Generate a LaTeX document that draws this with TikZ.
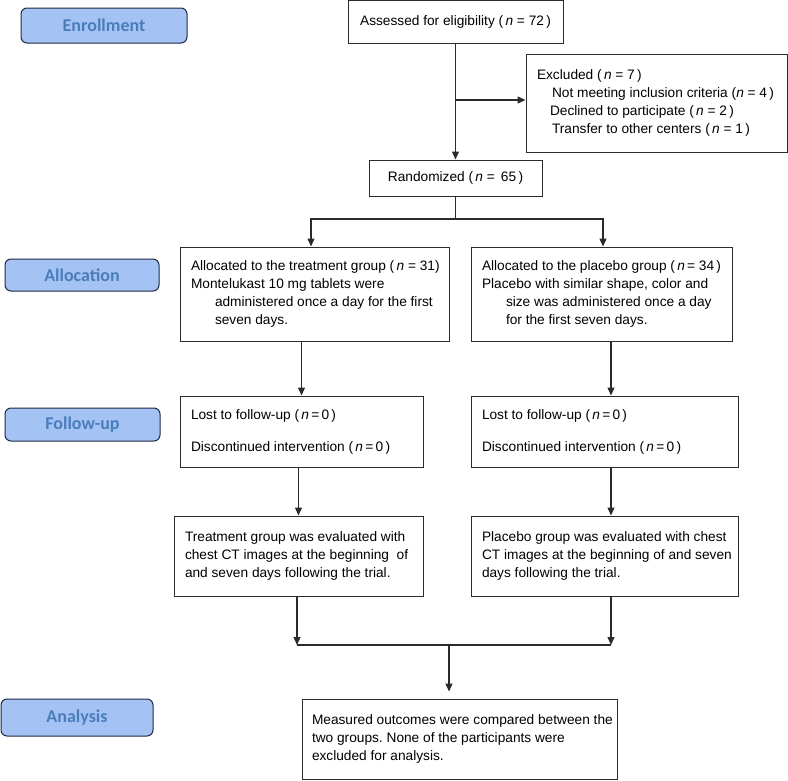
\documentclass[tikz,border=0pt]{standalone}
\usepackage{fontspec}
\setmainfont{Liberation Sans}
\newfontfamily\labelfont{Carlito}
\usetikzlibrary{arrows.meta,positioning}
\definecolor{lblfill}{HTML}{A4C2F4}
\definecolor{lbltext}{HTML}{4A7EBB}
\definecolor{lbldraw}{HTML}{1F2A44}
\definecolor{boxdraw}{HTML}{2B2B2B}
\frenchspacing
\begin{document}
\begin{tikzpicture}[x=1pt,y=-1pt,
  stage/.style={draw=lbldraw,line width=1pt,fill=lblfill,rounded corners=6pt,
    text=lbltext,font=\labelfont\bfseries\fontsize{18}{20}\selectfont,inner sep=0pt},
  tbox/.style={draw=boxdraw,line width=1pt,fill=white,inner xsep=11pt,inner ysep=0pt,
    font=\fontsize{13.7}{18}\selectfont,align=flush left},
  cbox/.style={draw=boxdraw,line width=1pt,fill=white,inner sep=0pt,
    font=\fontsize{13.7}{18}\selectfont,align=center},
  conn/.style={draw=boxdraw,line width=1.3pt},
  arr/.style={conn,-{Triangle[length=8pt,width=7pt]}}]
\useasboundingbox (0,0) rectangle (788,780);
% stage labels
\node[stage,minimum width=166pt,minimum height=35pt] (lenr) at (104,25.5) {Enrollment};
\node[stage,minimum width=154pt,minimum height=32pt] (lall) at (82,275) {Allocation};
\node[stage,minimum width=155pt,minimum height=33pt] (lfu) at (82.5,424.5) {Follow-up};
\node[stage,minimum width=152pt,minimum height=37pt] (lana) at (77,717.5) {Analysis};
% boxes
\node[cbox,minimum width=215pt,minimum height=42.5pt] (assess) at (455.5,21.75)
  {Assessed for eligibility (\,\textit{n} = 72\,)};
\node[tbox,text width=239pt,minimum height=98pt] (excl) at (656.5,103)
  {Excluded (\,\textit{n} = 7\,)\\
   \hspace*{15pt}\mbox{Not meeting inclusion criteria (\textit{n} = 4\,)}\\
   \hspace*{13pt}Declined to participate (\,\textit{n} = 2\,)\\
   \hspace*{15pt}Transfer to other centers (\,\textit{n} = 1\,)\\[4pt]};
\node[cbox,minimum width=173pt,minimum height=36pt] (rand) at (455.5,178)
  {Randomized (\,\textit{n} = \,65\,)};
\node[tbox,text width=247pt,minimum height=94pt] (alloc1) at (314.5,294)
  {\mbox{Allocated to the treatment group (\,\textit{n} = 31)}\\
   Montelukast 10 mg tablets were\\
   \hspace*{24pt}\mbox{administered once a day for the first}\\
   \hspace*{24pt}seven days.\\[4pt]};
\node[tbox,text width=239pt,minimum height=94pt] (alloc2) at (601.5,294)
  {Allocated to the placebo group (\,\textit{n}\,= 34\,)\\
   Placebo with similar shape, color and\\
   \hspace*{24pt}size was administered once a day\\
   \hspace*{24pt}for the first seven days.\\[4pt]};
\node[tbox,text width=221pt,minimum height=71pt] (fu1) at (301.5,431.5)
  {Lost to follow-up (\,\textit{n}\,=\,0\,)\\[14pt]
   Discontinued intervention (\,\textit{n}\,=\,0\,)};
\node[tbox,text width=245pt,minimum height=71pt] (fu2) at (604.5,431.5)
  {Lost to follow-up (\,\textit{n}\,=\,0\,)\\[14pt]
   Discontinued intervention (\,\textit{n}\,=\,0\,)};
\node[tbox,text width=227pt,minimum height=80pt] (ev1) at (298.5,556)
  {Treatment group was evaluated with\\
   \mbox{chest CT images at the beginning \ of}\\
   and seven days following the trial.\\[4pt]};
\node[tbox,text width=245pt,minimum height=80pt] (ev2) at (604.5,556)
  {\mbox{Placebo group was evaluated with chest}\\
   \mbox{CT images at the beginning of and seven}\\
   days following the trial.\\[4pt]};
\node[tbox,inner xsep=10pt,text width=295pt,minimum height=80pt] (ana) at (459.5,739)
  {\mbox{Measured outcomes were compared between the}\\
   two groups. None of the participants were\\
   excluded for analysis.\\[4pt]};
% connectors
\draw[arr] (assess.south) -- (rand.north);
\coordinate (exclin) at ([yshift=3pt]excl.west);
\draw[arr] (assess.south |- exclin) -- (exclin);
\coordinate (split) at (455.5,219);
\draw[conn] (rand.south) -- (split);
\draw[arr] (split) -| ([xshift=-3.5pt]alloc1.north);
\draw[arr] (split) -| ([xshift=1.5pt]alloc2.north);
\draw[arr] (fu1.north |- alloc1.south) -- (fu1.north);
\coordinate (fu2in) at ([xshift=6.5pt]fu2.north);
\draw[arr] (fu2in |- alloc2.south) -- (fu2in);
\draw[arr] (ev1.north |- fu1.south) -- (ev1.north);
\coordinate (ev2in) at ([xshift=6.5pt]ev2.north);
\draw[arr] (ev2in |- fu2.south) -- (ev2in);
\coordinate (merge) at (449,645);
\coordinate (ev1out) at ([xshift=-1.5pt]ev1.south);
\coordinate (ev2out) at ([xshift=6.5pt]ev2.south);
\draw[arr] (ev1out) -- (ev1out |- merge);
\draw[arr] (ev2out) -- (ev2out |- merge);
\draw[conn] (ev1out |- merge) -- (ev2out |- merge);
\draw[arr,shorten >=7pt] (merge) -- (merge |- ana.north);
\end{tikzpicture}
\end{document}
